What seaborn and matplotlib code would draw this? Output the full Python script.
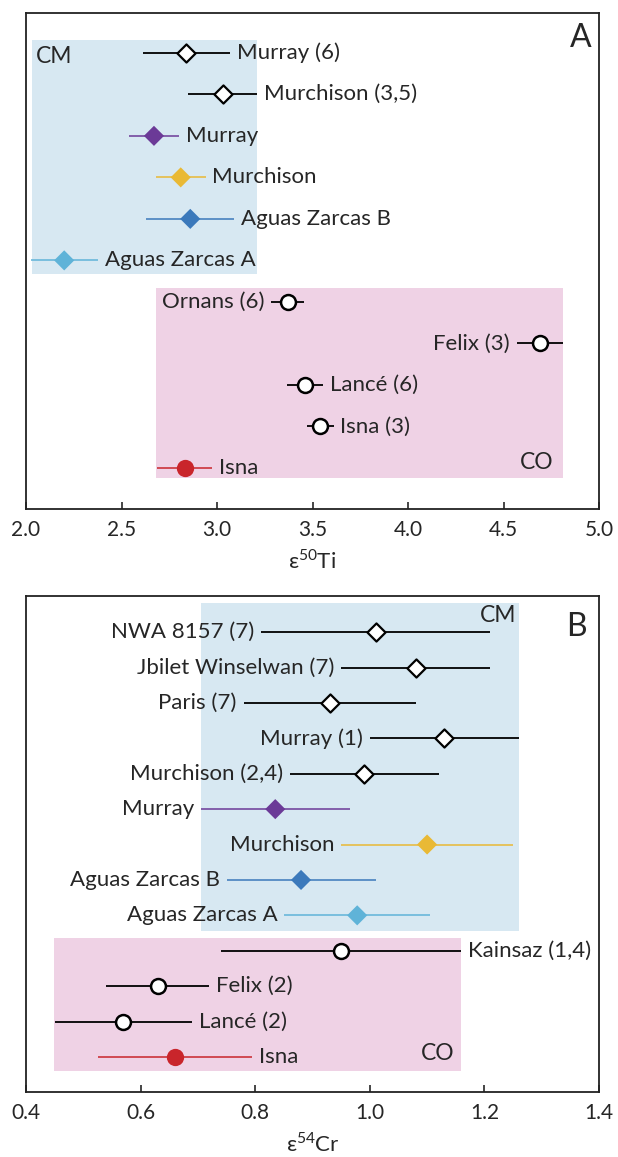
import pandas as pd
import matplotlib.pyplot as plt
import seaborn as sns
from matplotlib.patches import Rectangle

# --- Panel A: e50Ti ---
ti_names = ['Murray (6)', 'Murchison (3,5)', 'Murray', 'Murchison', 'Aguas Zarcas B', 'Aguas Zarcas A',
            'Ornans (6)', 'Felix (3)', 'Lancé (6)', 'Isna (3)', 'Isna']
ti_mean = [2.84, 3.03, 2.67, 2.81, 2.86, 2.20, 3.37, 4.69, 3.46, 3.54, 2.83]
ti_err = [0.23, 0.18, 0.13, 0.13, 0.23, 0.175, 0.085, 0.12, 0.095, 0.07, 0.145]
ti_group = ['CM'] * 6 + ['CO'] * 5
ti_kind = ['lit', 'lit', 'Murray', 'Murchison', 'AZB', 'AZA', 'lit', 'lit', 'lit', 'lit', 'Isna']
ti_side = ['r', 'r', 'r', 'r', 'r', 'r', 'l', 'l', 'r', 'r', 'r']

# --- Panel B: e54Cr ---
cr_names = ['NWA 8157 (7)', 'Jbilet Winselwan (7)', 'Paris (7)', 'Murray (1)', 'Murchison (2,4)', 'Murray',
            'Murchison', 'Aguas Zarcas B', 'Aguas Zarcas A', 'Kainsaz (1,4)', 'Felix (2)', 'Lancé (2)', 'Isna']
cr_mean = [1.01, 1.08, 0.93, 1.13, 0.99, 0.835, 1.10, 0.88, 0.978, 0.95, 0.63, 0.57, 0.66]
cr_err = [0.20, 0.13, 0.15, 0.13, 0.13, 0.13, 0.15, 0.13, 0.127, 0.21, 0.09, 0.12, 0.135]
cr_group = ['CM'] * 9 + ['CO'] * 4
cr_kind = ['lit', 'lit', 'lit', 'lit', 'lit', 'Murray', 'Murchison', 'AZB', 'AZA', 'lit', 'lit', 'lit', 'Isna']
cr_side = ['l'] * 9 + ['r'] * 4

# shaded group fields: (x0, x1, row0, row1)
ti_fields = {'CM': (2.03, 3.21, -0.31, 5.33), 'CO': (2.68, 4.81, 5.66, 10.24)}
cr_fields = {'CM': (0.705, 1.26, -0.82, 8.45), 'CO': (0.449, 1.16, 8.64, 12.4)}

colors = {'lit': 'black', 'Murray': '#6b3a97', 'Murchison': '#e9b935', 'AZB': '#3b79bb',
          'AZA': '#5fb3d8', 'Isna': '#c9252b'}
field_colors = {'CM': '#d7e8f2', 'CO': '#efd2e5'}

sns.set_style('ticks')
plt.rcParams['font.family'] = ['Lato', 'DejaVu Sans']
plt.rcParams['mathtext.fontset'] = 'custom'
plt.rcParams['mathtext.rm'] = 'Lato'
FS = 16


def draw_panel(ax, names, mean, err, group, kind, side, fields, xlim, ticks, xlabel, letter, nrows):
    df = pd.DataFrame({'name': names, 'mean': mean, 'err': err, 'group': group, 'kind': kind,
                       'side': side, 'row': range(len(names))})

    for g, (x0, x1, r0, r1) in fields.items():
        ax.add_patch(Rectangle((x0, r0), x1 - x0, r1 - r0, color=field_colors[g], lw=0, zorder=0))

    # error bars
    for _, r in df.iterrows():
        c = colors[r['kind']]
        ax.hlines(r['row'], r['mean'] - r['err'], r['mean'] + r['err'], color=c,
                  lw=1.3 if r['kind'] == 'lit' else 1.1, zorder=2)

    # markers
    cm = df[df['group'] == 'CM']
    co = df[df['group'] == 'CO']
    sns.scatterplot(data=cm[cm['kind'] == 'lit'], x='mean', y='row', marker='D', s=85,
                    color='white', edgecolor='black', linewidth=1.6, ax=ax, zorder=3, legend=False)
    sns.scatterplot(data=cm[cm['kind'] != 'lit'], x='mean', y='row', marker='D', s=105,
                    hue='kind', palette=colors, linewidth=0, ax=ax, zorder=3, legend=False)
    sns.scatterplot(data=co[co['kind'] == 'lit'], x='mean', y='row', marker='o', s=115,
                    color='white', edgecolor='black', linewidth=1.8, ax=ax, zorder=3, legend=False)
    sns.scatterplot(data=co[co['kind'] != 'lit'], x='mean', y='row', marker='o', s=155,
                    hue='kind', palette=colors, linewidth=0, ax=ax, zorder=3, legend=False)

    # sample labels
    for _, r in df.iterrows():
        if r['side'] == 'r':
            ax.annotate(r['name'], (r['mean'] + r['err'], r['row']), xytext=(5, 0),
                        textcoords='offset points', ha='left', va='center', fontsize=FS)
        else:
            ax.annotate(r['name'], (r['mean'] - r['err'], r['row']), xytext=(-5, 0),
                        textcoords='offset points', ha='right', va='center', fontsize=FS)

    ax.set_xlim(*xlim)
    ax.set_ylim(nrows[1], nrows[0])
    ax.set_xticks(ticks)
    ax.set_xticklabels([f'{t:.1f}' for t in ticks], fontsize=15)
    ax.set_yticks([])
    ax.set_ylabel('')
    ax.set_xlabel(xlabel, fontsize=FS, labelpad=6)
    ax.tick_params(axis='x', direction='in', length=5, width=1.2, pad=8)
    for sp in ax.spines.values():
        sp.set_visible(True)
        sp.set_linewidth(1.3)
        sp.set_color('#222222')
    ax.text(0.968, 0.95, letter, transform=ax.transAxes, ha='center', va='center', fontsize=23)


fig = plt.figure(figsize=(6.18, 11.57), dpi=100)
ax_a = fig.add_axes([26 / 618, 1 - 509 / 1157, 573 / 618, 496 / 1157])
ax_b = fig.add_axes([26 / 618, 1 - 1092 / 1157, 573 / 618, 496 / 1157])

draw_panel(ax_a, ti_names, ti_mean, ti_err, ti_group, ti_kind, ti_side, ti_fields,
           (2.0, 5.0), [2.0, 2.5, 3.0, 3.5, 4.0, 4.5, 5.0], r'ε$^{\mathregular{50}}$Ti', 'A', (-0.96, 10.99))
ax_a.text(2.052, 0.1, 'CM', ha='left', va='center', fontsize=16.5)
ax_a.text(4.76, 9.86, 'CO', ha='right', va='center', fontsize=16.5)

draw_panel(ax_b, cr_names, cr_mean, cr_err, cr_group, cr_kind, cr_side, cr_fields,
           (0.4, 1.4), [0.4, 0.6, 0.8, 1.0, 1.2, 1.4], r'ε$^{\mathregular{54}}$Cr', 'B', (-1.02, 12.99))
ax_b.texts[-1].set_position((0.96, 0.9375))
ax_b.text(1.256, -0.48, 'CM', ha='right', va='center', fontsize=16.5)
ax_b.text(1.147, 11.9, 'CO', ha='right', va='center', fontsize=16.5)

fig.savefig('out.png', dpi=100)
